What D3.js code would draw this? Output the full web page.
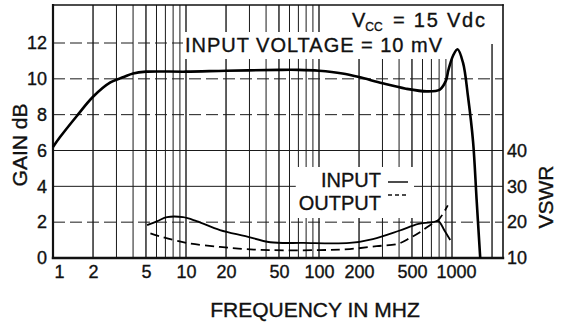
<!DOCTYPE html>
<html><head><meta charset="utf-8">
<script src="https://cdn.jsdelivr.net/npm/d3@7"></script>
<style>
html,body{margin:0;padding:0;background:#fff;}
svg{display:block;}
text{font-family:"Liberation Sans",Arial,Helvetica,sans-serif;fill:#111;stroke:#111;stroke-width:0.35px;}
</style></head><body>
<svg id="chart" width="565" height="323"></svg>
<script>
// Gain (dB) versus frequency (MHz)
const gainFreq = [1, 1.13, 1.5, 2, 2.7, 3.4, 4, 5, 10, 20, 50, 70, 100, 150, 200, 300, 450, 650, 810, 900, 940, 1020, 1100, 1210, 1320, 1440, 1530, 1630];
const gainDb   = [6.2, 6.75, 7.9, 9.0, 9.8, 10.1, 10.3, 10.4, 10.4, 10.45, 10.5, 10.5, 10.45, 10.3, 10.1, 9.75, 9.45, 9.3, 9.4, 9.9, 10.5, 11.3, 11.65, 10.9, 9.0, 6.5, 3.3, 0];

// Input VSWR (solid) versus frequency (MHz)
const vswrInFreq = [5.1, 6.1, 7.2, 9.5, 12, 18, 28, 43, 76, 170, 254, 400, 560, 718, 790, 880, 970];
const vswrInVal  = [19.2, 20.3, 21.4, 21.4, 20.3, 17.8, 16.1, 14.4, 14.2, 14.2, 15.3, 17.6, 19.5, 20.0, 20.3, 17.6, 15.0];

// Output VSWR (dashed) versus frequency (MHz)
const vswrOutFreq = [5.4, 6.7, 10.2, 18, 28, 43, 100, 170, 272, 395, 484, 574, 718, 790, 930];
const vswrOutVal  = [16.9, 15.8, 14.2, 13.1, 12.5, 12.2, 12.2, 12.5, 13.3, 14.0, 15.6, 17.2, 19.7, 20.6, 24.7];

// Axis ticks and labels
const freqTicks = [1, 2, 5, 10, 20, 50, 100, 200, 500, 1000];
const freqTickLabels = ["1", "2", "5", "10", "20", "50", "100", "200", "500", "1000"];
const gainTicks = [0, 2, 4, 6, 8, 10, 12];
const vswrTicks = [10, 20, 30, 40];
const legendLabels = ["INPUT", "OUTPUT"];

const svg = d3.select("#chart");
const L = 53, R = 503, T = 5, B = 258;

const x = d3.scaleLog().domain([1, 1000]).range([L, 452]);
const y = d3.scaleLinear().domain([0, 12]).range([B, 43]);
const v = d3.scaleLinear().domain([10, 40]).range([y(0), y(6)]);

// log-paper vertical grid: 1..9 in every decade
const gridFreq = [];
for (let k = 0; k < 4; k++) for (let m = 1; m < 10; m++) {
  const f = m * Math.pow(10, k);
  if (x(f) <= R - 2) gridFreq.push(f);
}
const grid = svg.append("g");
grid.selectAll("line.v").data(gridFreq).join("line")
  .attr("x1", d => x(d)).attr("x2", d => x(d))
  .attr("y1", T).attr("y2", B)
  .attr("stroke", "#1a1a1a")
  .attr("stroke-width", d => [1, 2, 5].includes(Math.round(d / Math.pow(10, Math.floor(Math.log10(d) + 1e-9)))) ? 1.4 : 1);

grid.selectAll("line.h").data(gainTicks.filter(d => d > 0)).join("line")
  .attr("x1", L).attr("x2", R)
  .attr("y1", d => y(d)).attr("y2", d => y(d))
  .attr("stroke", "#1a1a1a")
  .attr("stroke-width", 1)
  .attr("stroke-dasharray", d => (d === 4 || d === 6) ? null : "12,5");

// annotation texts with white backing boxes
const notes = svg.append("g");
const inputNote = notes.append("text")
  .attr("x", 185).attr("y", 52)
  .attr("font-size", 20)
  .attr("textLength", 257).attr("lengthAdjust", "spacing")
  .text("INPUT VOLTAGE = 10 mV");
const vccNote = notes.append("text").attr("x", 352).attr("y", 27).attr("font-size", 20);
vccNote.append("tspan").text("V");
vccNote.append("tspan").attr("font-size", 12).attr("dy", 4).text("CC");
vccNote.append("tspan").attr("x", 393).attr("dy", -4).attr("textLength", 92).attr("lengthAdjust", "spacing").text("= 15 Vdc");

const legend = svg.append("g");
legend.selectAll("text").data(legendLabels).join("text")
  .attr("x", 381).attr("y", (d, i) => 187 + i * 23)
  .attr("text-anchor", "end")
  .attr("font-size", 20)
  .text(d => d);
legend.selectAll("line").data(legendLabels).join("line")
  .attr("x1", 388).attr("x2", 408)
  .attr("y1", (d, i) => 182 + i * 13).attr("y2", (d, i) => 182 + i * 13)
  .attr("stroke", "#111").attr("stroke-width", 1.5)
  .attr("stroke-dasharray", (d, i) => i ? "4,3" : null);

function backing(sel, pl, pr, pt, pb) {
  const b = sel.node().getBBox();
  svg.insert("rect", () => notes.node())
    .attr("x", b.x - pl).attr("y", b.y - pt)
    .attr("width", b.width + pl + pr).attr("height", b.height + pt + pb)
    .attr("fill", "#fff");
}
backing(inputNote, 2, 13, 2, 3);
backing(vccNote, 4, 20, 6, 10);
backing(legend, 3, 6, 2, 4);

// frame
const frame = svg.append("g").attr("stroke", "#111").attr("stroke-linecap", "square");
frame.append("line").attr("x1", L).attr("x2", R).attr("y1", T).attr("y2", T).attr("stroke-width", 1.6);
frame.append("line").attr("x1", L).attr("x2", R).attr("y1", B).attr("y2", B).attr("stroke-width", 2.4);
frame.append("line").attr("x1", L).attr("x2", L).attr("y1", T).attr("y2", B).attr("stroke-width", 2.2);
frame.append("line").attr("x1", R).attr("x2", R).attr("y1", T).attr("y2", B).attr("stroke-width", 1.6);

// curves
const gainLine = d3.line().x(d => x(d[0])).y(d => y(d[1])).curve(d3.curveCatmullRom.alpha(0.5));
const vswrLine = d3.line().x(d => x(d[0])).y(d => v(d[1])).curve(d3.curveCatmullRom.alpha(0.5));

svg.append("path")
  .datum(d3.zip(gainFreq, gainDb))
  .attr("d", gainLine)
  .attr("fill", "none").attr("stroke", "#000").attr("stroke-width", 2.6).attr("stroke-linejoin", "round");

svg.append("path")
  .datum(d3.zip(vswrInFreq, vswrInVal))
  .attr("d", vswrLine)
  .attr("fill", "none").attr("stroke", "#000").attr("stroke-width", 1.8);

svg.append("path")
  .datum(d3.zip(vswrOutFreq, vswrOutVal))
  .attr("d", vswrLine)
  .attr("fill", "none").attr("stroke", "#000").attr("stroke-width", 1.8)
  .attr("stroke-dasharray", "9,5");

// axes
const xAxis = svg.append("g").attr("transform", `translate(0,${B})`)
  .call(d3.axisBottom(x).tickValues(freqTicks).tickFormat((d, i) => freqTickLabels[i]).tickSize(0).tickPadding(7));
xAxis.selectAll("text").attr("font-size", 18).attr("dx", (d, i) => i === 0 ? 6 : (i === freqTicks.length - 1 ? 4 : 0));

const yAxis = svg.append("g").attr("transform", `translate(${L},0)`)
  .call(d3.axisLeft(y).tickValues(gainTicks).tickSize(0).tickPadding(6));
yAxis.selectAll("text").attr("font-size", 18);

const vAxis = svg.append("g").attr("transform", `translate(${R},0)`)
  .call(d3.axisRight(v).tickValues(vswrTicks).tickSize(0).tickPadding(4));
vAxis.selectAll("text").attr("font-size", 18);

[xAxis, yAxis, vAxis].forEach(a => {
  a.select(".domain").remove();
  a.selectAll("text").attr("fill", "#111").attr("font-family", "Liberation Sans, Arial, sans-serif");
});

// axis titles
svg.append("text").attr("x", 315).attr("y", 317).attr("text-anchor", "middle")
  .attr("font-size", 21).text("FREQUENCY IN MHZ");
svg.append("text").attr("transform", "translate(20,145) rotate(-90)").attr("text-anchor", "middle")
  .attr("dy", "0.35em").attr("font-size", 21).text("GAIN dB");
svg.append("text").attr("transform", "translate(546,197) rotate(-90)").attr("text-anchor", "middle")
  .attr("dy", "0.35em").attr("font-size", 21).text("VSWR");
</script>
</body></html>
